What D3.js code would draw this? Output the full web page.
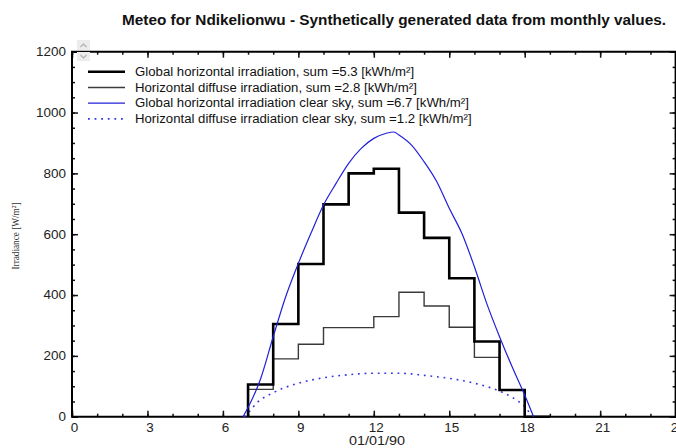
<!DOCTYPE html>
<meta charset="utf-8">
<style>
body {
  margin: 0;
  background: #fff;
  font-family: Arial, "Liberation Sans", sans-serif;
}
svg { display: block; }
.tick text { font-size: 12px; fill: #222; }
.domain { display: none; }
.legend text { font-size: 12px; fill: #111; }
</style>
<body>
<script src="https://d3js.org/d3.v7.min.js"></script>
<script>

var width = 676,
    height = 448;

// hourly values, W/m2 (step series, value holds for the hour starting at hours[i])
var hours = [7, 8, 9, 10, 11, 12, 13, 14, 15, 16, 17];
var globalIrr = [106, 305, 502, 698, 800, 815, 671, 588, 455, 247, 88];
var diffuseIrr = [90, 190, 238, 293, 293, 329, 409, 364, 294, 195, 88];

// clear sky model curves
var clearHours = [6.8, 7, 7.5, 8, 8.5, 9, 9.5, 10, 10.5, 11, 11.5, 12, 12.5, 12.8, 13, 13.5, 14, 14.5, 15, 15.5, 16, 16.5, 17, 17.5, 18, 18.35];
var clearGlobal = [0, 30, 125, 263, 395, 504, 603, 696, 767, 833, 882, 915, 932, 936, 926, 893, 838, 773, 685, 603, 493, 370, 263, 164, 71, 0];
var diffHours = [6.85, 7, 7.33, 8, 9, 10, 11, 12, 13, 14, 15, 16, 17, 17.67, 18, 18.3];
var clearDiffuse = [0, 12, 44, 79, 110, 128, 138, 143, 143, 136, 126, 110, 84, 55, 33, 0];

var xTicks = [0, 3, 6, 9, 12, 15, 18, 21, 24];
var yTicks = [0, 200, 400, 600, 800, 1000, 1200];

var legendLabels = [
  "Global horizontal irradiation, sum =5.3 [kWh/m\u00b2]",
  "Horizontal diffuse irradiation, sum =2.8 [kWh/m\u00b2]",
  "Global horizontal irradiation clear sky, sum =6.7 [kWh/m\u00b2]",
  "Horizontal diffuse irradiation clear sky, sum =1.2 [kWh/m\u00b2]"
];

var plotL = 72, plotR = 675.6, plotT = 51.7, plotB = 416.7;

var x = d3.scaleLinear().domain([0, 24]).range([plotL, plotR]);
var y = d3.scaleLinear().domain([0, 1200]).range([plotB, plotT]);

// the original renders text a bit wider than Arial, widen it a little
function stretch(sel, k) {
  sel.each(function() {
    var w = this.getComputedTextLength();
    d3.select(this).attr("textLength", w * k).attr("lengthAdjust", "spacingAndGlyphs");
  });
}

var svg = d3.select("body").append("svg")
    .attr("width", width)
    .attr("height", height);

// title
svg.append("text")
    .attr("x", 394)
    .attr("y", 25)
    .attr("text-anchor", "middle")
    .attr("textLength", 544)
    .attr("lengthAdjust", "spacingAndGlyphs")
    .style("font-size", "14px")
    .style("font-weight", "bold")
    .attr("fill", "#111")
    .text("Meteo for Ndikelionwu - Synthetically generated data from monthly values.");

// axes (ticks point inward)
svg.append("g")
    .attr("transform", "translate(0," + plotB + ")")
    .call(d3.axisBottom(x).tickValues(d3.range(0, 25)).tickSize(-3).tickFormat(""));
var xb = svg.append("g")
    .attr("transform", "translate(0," + plotB + ")")
    .call(d3.axisBottom(x).tickValues(xTicks).tickSize(-6).tickPadding(6.5).tickFormat(d3.format("d")));
xb.selectAll("text").attr("dx", 2);

svg.append("g")
    .attr("transform", "translate(0," + plotT + ")")
    .call(d3.axisTop(x).tickValues(d3.range(0, 25)).tickSize(-3).tickFormat(""));
svg.append("g")
    .attr("transform", "translate(0," + plotT + ")")
    .call(d3.axisTop(x).tickValues(xTicks).tickSize(-6).tickFormat(""));

svg.append("g")
    .attr("transform", "translate(" + plotL + ",0)")
    .call(d3.axisLeft(y).tickValues(d3.range(0, 1201, 50)).tickSize(-3).tickFormat(""));
svg.append("g")
    .attr("transform", "translate(" + plotL + ",0)")
    .call(d3.axisLeft(y).tickValues(yTicks).tickSize(-6).tickPadding(6).tickFormat(d3.format("d")));

svg.append("g")
    .attr("transform", "translate(" + plotR + ",0)")
    .call(d3.axisRight(y).tickValues(d3.range(0, 1201, 50)).tickSize(-3).tickFormat(""));
svg.append("g")
    .attr("transform", "translate(" + plotR + ",0)")
    .call(d3.axisRight(y).tickValues(yTicks).tickSize(-6).tickFormat(""));

svg.selectAll(".tick line").attr("stroke", "#111").attr("stroke-width", 1.5);
stretch(svg.selectAll(".tick text"), 1.12);

// frame
svg.append("path")
    .attr("d", "M" + plotL + "," + plotT + "H" + plotR + "V" + plotB + "H" + plotL + "Z")
    .attr("fill", "none")
    .attr("stroke", "#000")
    .attr("stroke-width", 2);

// axis titles
svg.append("text")
    .attr("transform", "translate(19,236)rotate(-90)")
    .attr("text-anchor", "middle")
    .attr("textLength", 67)
    .attr("lengthAdjust", "spacingAndGlyphs")
    .style("font-family", "'Liberation Serif', 'DejaVu Serif', serif")
    .style("font-size", "11px")
    .attr("fill", "#333")
    .text("Irradiance [W/m\u00b2]");

svg.append("text")
    .attr("x", 377)
    .attr("y", 445)
    .attr("text-anchor", "middle")
    .attr("textLength", 56)
    .attr("lengthAdjust", "spacingAndGlyphs")
    .style("font-size", "12px")
    .attr("fill", "#222")
    .text("01/01/90");

// series
var stepLine = d3.line()
    .x(function(d) { return x(d[0]); })
    .y(function(d) { return y(d[1]); })
    .curve(d3.curveStepAfter);

var smoothLine = d3.line()
    .x(function(d) { return x(d[0]); })
    .y(function(d) { return y(d[1]); })
    .curve(d3.curveMonotoneX);

var globalPts = [[hours[0], 0]].concat(hours.map(function(h, i) { return [h, globalIrr[i]]; }));
globalPts.push([18, 0], [19, 0]);
var diffusePts = [[hours[0], 0]].concat(hours.map(function(h, i) { return [h, diffuseIrr[i]]; }));
diffusePts.push([18, 0]);

svg.append("path")
    .attr("d", smoothLine(diffHours.map(function(h, i) { return [h, clearDiffuse[i]]; })))
    .attr("fill", "none")
    .attr("stroke", "#3535e8")
    .attr("stroke-width", 1.6)
    .attr("stroke-dasharray", "1.8,4.8");

svg.append("path")
    .attr("d", stepLine(diffusePts))
    .attr("fill", "none")
    .attr("stroke", "#3a3a3a")
    .attr("stroke-width", 1.4);

svg.append("path")
    .attr("d", stepLine(globalPts))
    .attr("fill", "none")
    .attr("stroke", "#000")
    .attr("stroke-width", 2.6);

svg.append("path")
    .attr("d", smoothLine(clearHours.map(function(h, i) { return [h, clearGlobal[i]]; })))
    .attr("fill", "none")
    .attr("stroke", "#2020d8")
    .attr("stroke-width", 1.2);

// legend
var legendStyles = [
  {stroke: "#000", width: 2.6, dash: null},
  {stroke: "#3a3a3a", width: 1.4, dash: null},
  {stroke: "#2020d8", width: 1.2, dash: null},
  {stroke: "#3535e8", width: 1.6, dash: "1.8,4.8"}
];

var legend = svg.append("g").attr("class", "legend");
var rows = legend.selectAll("g")
    .data(legendLabels)
  .enter().append("g")
    .attr("transform", function(d, i) { return "translate(0," + (71.8 + i * 15.7) + ")"; });

rows.append("line")
    .attr("x1", 88)
    .attr("x2", 125)
    .attr("stroke", function(d, i) { return legendStyles[i].stroke; })
    .attr("stroke-width", function(d, i) { return legendStyles[i].width; })
    .attr("stroke-dasharray", function(d, i) { return legendStyles[i].dash; });

rows.append("text")
    .attr("x", 135)
    .attr("dy", "0.35em")
    .text(function(d) { return d; });
stretch(rows.selectAll("text"), 1.1);

// little scroll widget in the corner
var sw = svg.append("g").attr("transform", "translate(77,40)");
sw.append("rect").attr("width", 13).attr("height", 10).attr("fill", "#ececec");
sw.append("rect").attr("y", 12).attr("width", 13).attr("height", 9).attr("fill", "#ececec");
sw.append("path").attr("d", "M3.5,7 L6.5,4 L9.5,7").attr("fill", "none").attr("stroke", "#b0b0b0").attr("stroke-width", 1.2);
sw.append("path").attr("d", "M3.5,15 L6.5,18 L9.5,15").attr("fill", "none").attr("stroke", "#b0b0b0").attr("stroke-width", 1.2);

</script>
</body>
